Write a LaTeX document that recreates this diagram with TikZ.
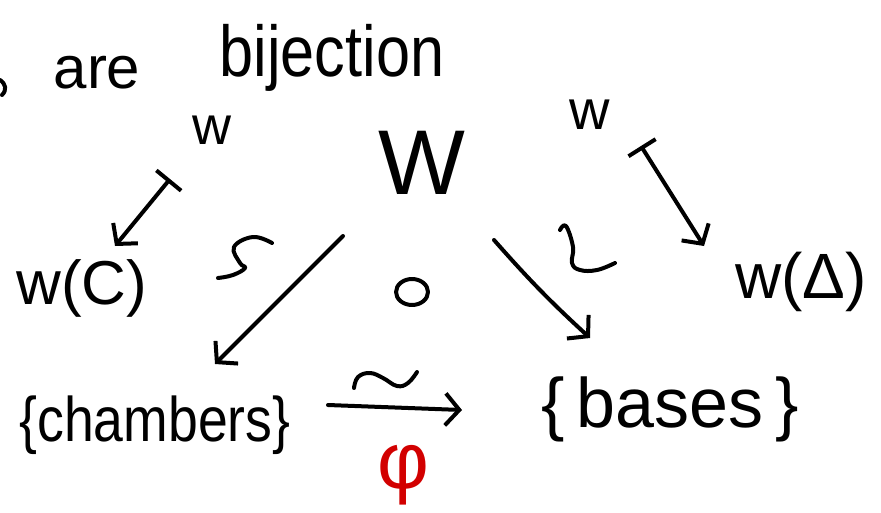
\documentclass[tikz,border=0pt]{standalone}
\usepackage{fontspec}
\setmainfont{Liberation Sans}
\newfontfamily\narrowhand{Liberation Sans}[FakeStretch=0.85]
\usetikzlibrary{arrows.meta}
\definecolor{penred}{RGB}{210,0,0}
\newcommand\pensize[1]{\fontsize{#1}{#1}\selectfont}
\begin{document}
\begin{tikzpicture}[x=1pt,y=-1pt,
  ink/.style={line width=4pt, line cap=round, line join=round},
  hand/.style={inner sep=0pt, anchor=base},
  barb/.tip={Straight Barb[length=14pt,width=32pt,line width=4pt]},
  arrowto/.style={ink, -barb},
  mapsto/.style={ink, {Bar[width=32pt,line width=4pt]}-barb}]
\useasboundingbox (0,0) rectangle (881,512);

% words across the top
\draw[ink] (0,80) .. controls (6,84) and (7,90) .. (2,95);
\node[hand, font=\pensize{60}] (are) at (97,88) {are};
\node[hand, font=\narrowhand\pensize{72}] (bij) at (332,76) {bijection};

% the group and its two orbit maps
\node[hand, font=\pensize{92}] (W) at (422,194) {W};
\node[hand, font=\pensize{54}] (wl) at (212,144) {w};
\node[hand, font=\pensize{56}] (wr) at (590,129) {w};
\node[hand, font=\pensize{62}] (wC) at (82,304) {w(C)};
\node[hand, font=\pensize{64}] (wD) at (801,298) {w(Δ)};

% the two sets
\node[hand, font=\narrowhand\pensize{63}] (chambers) at (155,441) {\{chambers\}};
\node[hand, font=\pensize{70}] (bases) at (670,427) {\{\,bases\,\}};
\node[hand, font=\pensize{80}, text=penred] (phi) at (403,488) {φ};

% free ends of the arrows
\coordinate (ml1) at (170,179);
\coordinate (ml2) at (115,246);
\coordinate (mr1) at (641,146);
\coordinate (mr2) at (704,246);
\coordinate (a1) at (343,236);
\coordinate (a2) at (215,364);
\coordinate (b1) at (494,240);
\coordinate (b2) at (590,338);
\coordinate (c1) at (328,405);
\coordinate (c2) at (462,410);

\draw[mapsto] (ml1) -- (ml2);
\draw[mapsto] (mr1) -- (mr2);
\draw[arrowto] (a1) -- (a2);
\draw[arrowto] (b1) to[bend right=3] (b2);
\draw[arrowto] (c1) -- (c2);

% isomorphism marks and the commuting circle
\draw[ink] plot[smooth, tension=0.7] coordinates {(354,388) (358,377) (370,373) (383,378) (397,386) (408,383) (417,372)};
\draw[ink] plot[smooth, tension=0.7] coordinates {(272,243) (253,237) (234,247) (240,263) (245,268) (233,275) (218,278)};
\draw[ink] plot[smooth, tension=0.7] coordinates {(560,230) (566,226) (573,247) (572,263) (580,270) (597,270) (615,263)};
\draw[ink] (412,292) ellipse (16 and 13);
\end{tikzpicture}
\end{document}
